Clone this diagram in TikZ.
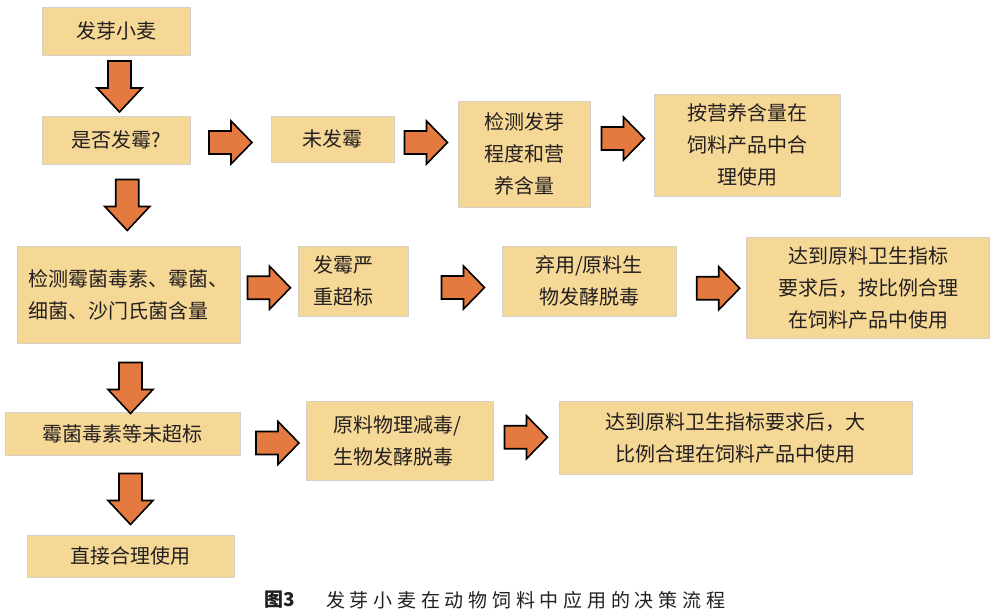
\documentclass[tikz,border=0pt]{standalone}
\usepackage{fontspec}
\setmainfont{Noto Sans CJK SC}
\usetikzlibrary{calc}
\definecolor{boxfill}{HTML}{F6D896}
\definecolor{boxline}{HTML}{D6D0C6}
\definecolor{arrfill}{HTML}{E47A3F}
\definecolor{txt}{HTML}{231F20}
\tikzset{
  box/.style={draw=boxline, fill=boxfill, line width=0.8pt, inner sep=0pt, align=center, text=txt},
  arr/.style={fill=arrfill, draw=black, line width=1.6pt, line join=miter},
  rarrow/.pic={\path[arr] (-21.5,-11.5) -- (0.5,-11.5) -- (0.5,-21.5) -- (21.5,0) -- (0.5,21.5) -- (0.5,11.5) -- (-21.5,11.5) -- cycle;},
  darrow/.pic={\path[arr] (-11.5,-25.5) -- (11.5,-25.5) -- (11.5,1.5) -- (22.5,1.5) -- (0,25.5) -- (-22.5,1.5) -- (-11.5,1.5) -- cycle;},
  captext/.style={anchor=west, inner sep=0pt, text=txt, font=\fontsize{19}{24}\selectfont},
}
\begin{document}
\begin{tikzpicture}[x=1pt, y=-1pt, font=\fontsize{20}{32}\selectfont]
\useasboundingbox (0,0) rectangle (995,615);
\fill[white] (0,0) rectangle (995,615);

% boxes
\node[box, minimum width=148pt, minimum height=48pt] (b1) at (116,31) {发芽小麦};
\node[box, minimum width=148pt, minimum height=48pt] (b2) at (116,140) {是否发霉?};
\node[box, minimum width=123pt, minimum height=46pt] (b3) at (332.5,139) {未发霉};
\node[box, minimum width=132pt, minimum height=106pt] (b4) at (524,154) {检测发芽\\程度和营\\养含量};
\node[box, minimum width=186pt, minimum height=102pt] (b5) at (747,145) {按营养含量在\\饲料产品中合\\理使用};
\node[box, minimum width=223pt, minimum height=97pt, text width=200pt, align=left] (b6) at (128.5,294.5) {检测霉菌毒素、霉菌、\\细菌、沙门氏菌含量};
\node[box, minimum width=110pt, minimum height=70pt, text width=80pt, align=left] (b7) at (353,281) {发霉严\\重超标};
\node[box, minimum width=174pt, minimum height=70pt] (b8) at (589,281) {弃用/原料生\\物发酵脱毒};
\node[box, minimum width=243pt, minimum height=101pt] (b9) at (868,287.5) {达到原料卫生指标\\要求后，按比例合理\\在饲料产品中使用};
\node[box, minimum width=235pt, minimum height=43pt] (b10) at (122.5,433.5) {霉菌毒素等未超标};
\node[box, minimum width=187pt, minimum height=79pt, text width=133pt, align=left] (b11) at (399.5,440.5) {原料物理减毒/\\生物发酵脱毒};
\node[box, minimum width=353pt, minimum height=73pt] (b12) at (735.5,438) {达到原料卫生指标要求后，大\\比例合理在饲料产品中使用};
\node[box, minimum width=207pt, minimum height=42pt] (b13) at (130.5,556) {直接合理使用};

% down arrows
\pic at ($(b1.south)!0.5!(b2.north)+(3.5,1)$) {darrow};
\pic at ($(b2.south)!0.5!(b6.north)+(5,0)$) {darrow};
\pic at ($(b6.south)!0.5!(b10.north)+(5,10.5)$) {darrow};
\pic at ($(b10.south)!0.5!(b13.north)+(4,4)$) {darrow};

% right arrows
\pic at ($(b2.east)!0.5!(b3.west)+(0,3)$) {rarrow};
\pic at ($(b3.east)!0.5!(b4.west)+(0,-4)$) {rarrow};
\pic at ($(b4.east)!0.5!(b5.west)+(1,-11)$) {rarrow};
\pic at ($(b6.east)!0.5!(b7.west)+(0,0)$) {rarrow};
\pic at ($(b7.east)!0.5!(b8.west)+(8,6.5)$) {rarrow};
\pic at ($(b8.east)!0.5!(b9.west)+(7,4)$) {rarrow};
\pic at ($(b10.east)!0.5!(b11.west)+(4.5,6)$) {rarrow};
\pic at ($(b11.east)!0.5!(b12.west)+(0,-2)$) {rarrow};

% caption
\node[captext, font=\fontsize{19}{24}\selectfont\bfseries] (cap1) at (264,600) {图3};
\node[captext, font=\fontsize{19}{24}\selectfont\addfontfeature{LetterSpace=25}] (cap2) at (326,600) {发芽小麦在动物饲料中应用的决策流程};
\end{tikzpicture}
\end{document}
